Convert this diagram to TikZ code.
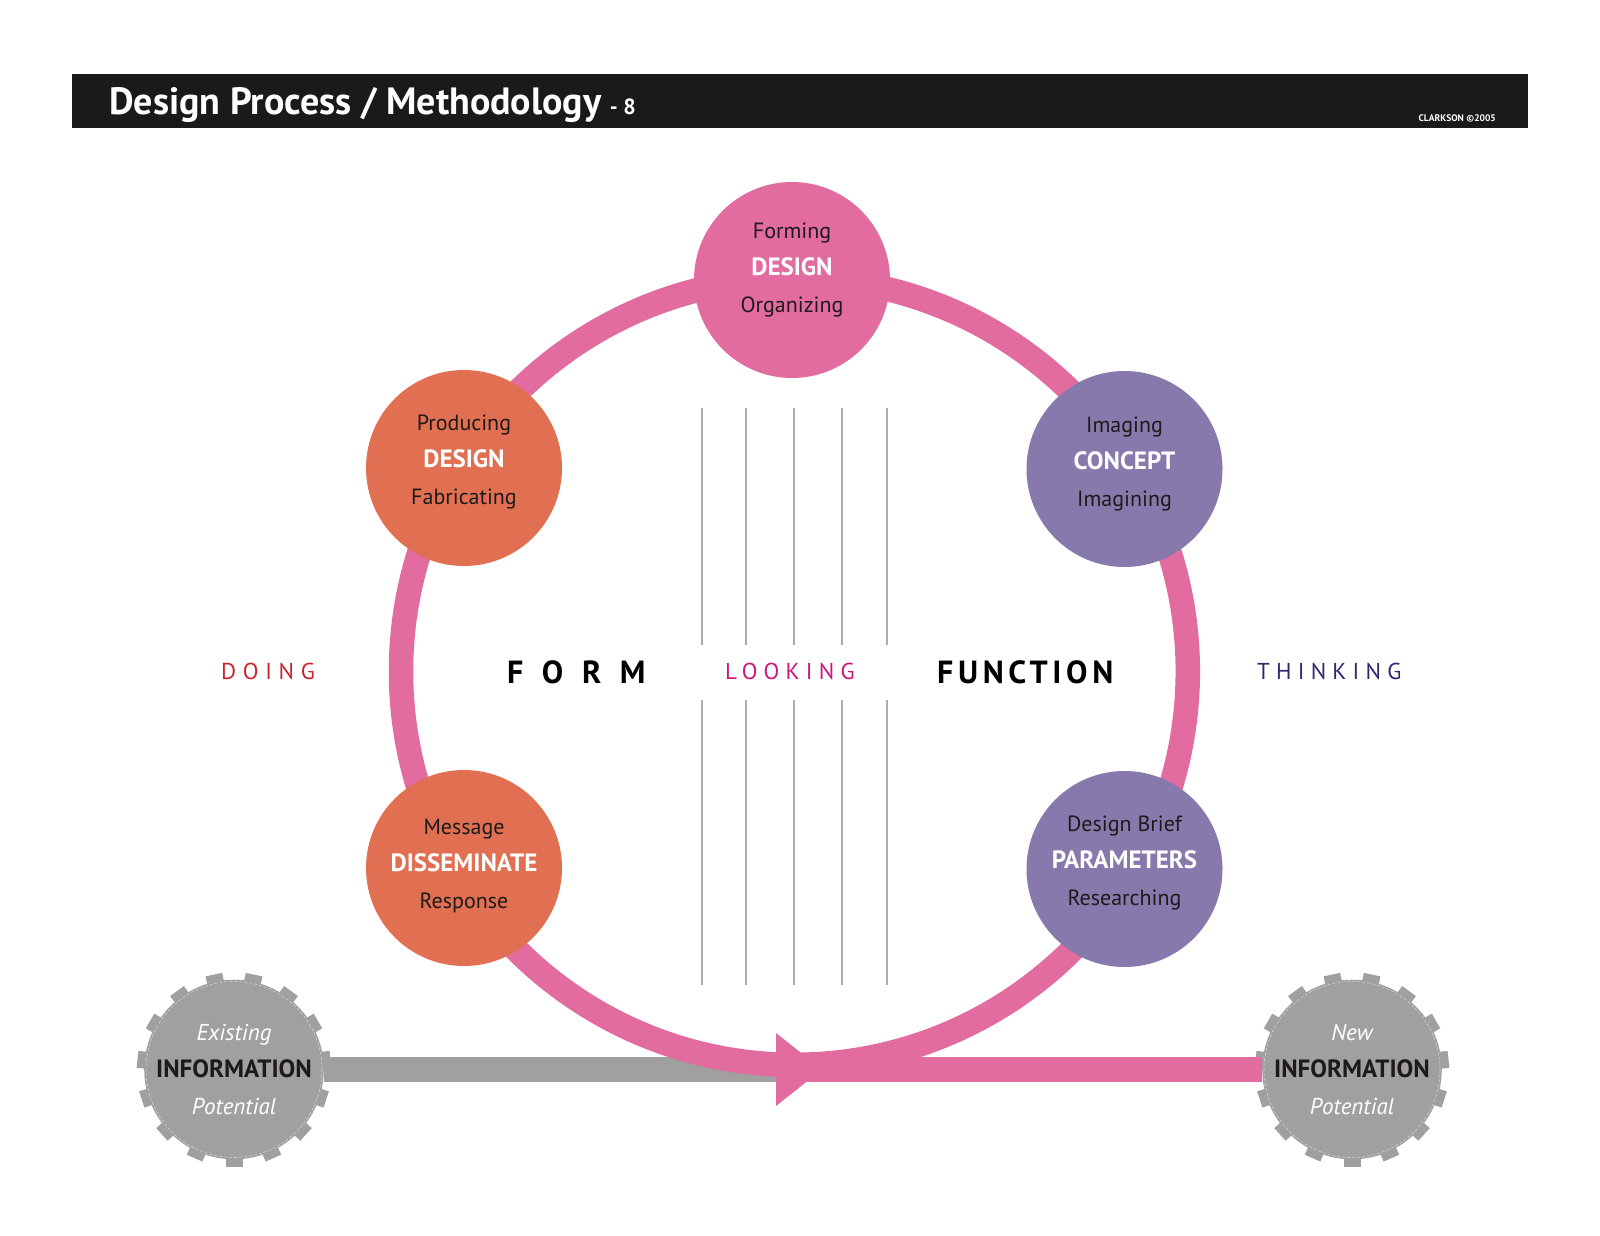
\documentclass[tikz,border=0pt]{standalone}
\usepackage{fontspec}
\setmainfont{PT Sans}
\usetikzlibrary{positioning,backgrounds}

\definecolor{ringpink}{RGB}{226,107,160}
\definecolor{doorange}{RGB}{225,112,82}
\definecolor{thinkpurple}{RGB}{136,121,172}
\definecolor{infogray}{RGB}{160,160,160}
\definecolor{guidegray}{RGB}{172,172,172}
\definecolor{headblack}{RGB}{26,26,26}
\definecolor{stagetext}{RGB}{30,26,26}
\definecolor{doingred}{RGB}{200,36,46}
\definecolor{lookingmag}{RGB}{204,22,122}
\definecolor{thinknavy}{RGB}{46,40,110}

\tikzset{
  stage/.style={circle, minimum size=196, inner sep=0pt},
  stagelabel/.style={inner sep=0pt, align=center, text=stagetext,
    font=\fontsize{22}{37}\selectfont},
  infogear/.style={circle, fill=infogray, minimum size=176, inner sep=0pt,
    align=center, text=stagetext, font=\fontsize{23}{37}\selectfont},
  sidelabel/.style={anchor=base west, inner sep=0pt, font=\fontsize{23}{23}\selectfont},
  biglabel/.style={anchor=base west, inner sep=0pt, text=black, font=\fontsize{32}{32}\selectfont\bfseries},
  guide/.style={guidegray, line width=1.5},
  bar/.style={line width=25}
}

\newcommand{\keyword}[1]{\textcolor{white}{\fontsize{25}{37}\selectfont\bfseries #1}}
\newcommand{\softword}[1]{\textcolor{white}{\itshape #1}}
\newcommand{\infoword}{{\fontsize{25}{37}\selectfont\bfseries INFORMATION}}

\begin{document}
\begin{tikzpicture}[x=1pt,y=-1pt]
\useasboundingbox (0,0) rectangle (1600,1236);

\fill[headblack] (72,74.5) rectangle (1528,128.5);
\node[anchor=base west, inner sep=0pt, text=white, font=\fontsize{38}{38}\selectfont\bfseries]
  (title) at (109,114) {Design Process / Methodology};
\node[anchor=base west, inner sep=0pt, text=white, font=\fontsize{22}{22}\selectfont\bfseries]
  (page) at ([xshift=8]title.base east) {- 8};
\node[anchor=base east, inner sep=0pt, text=white, font=\fontsize{9.5}{9.5}\selectfont\bfseries]
  (credit) at (1496,122) {CLARKSON ©2005};

\pgfmathsetmacro{\r}{393.4}
\coordinate (ctr) at (794.4,671.4);
\draw[ringpink, line width=24.5] (ctr) circle (\r);

\foreach \x in {702,746,794,842,887}{
  \draw[guide] (\x,408) -- (\x,645);
  \draw[guide] (\x,700) -- (\x,985);
}

\node[infogear] (existing) at (234,1069.5) {\softword{Existing}\\ \infoword\\ \softword{Potential}};
\node[infogear] (newinfo) at (1352,1069.5) {\softword{New}\\ \infoword\\ \softword{Potential}};
\foreach \g in {existing,newinfo}{
  \begin{scope}[shift={(\g.center)}]
    \foreach \a in {0,24,...,336}
      \fill[infogray, rotate=\a] (-8.5,84) rectangle (8.5,97);
    \draw[white, line width=0.5, dash pattern=on 3 off 2, opacity=0.6] (0,0) circle (88);
  \end{scope}
}

\coordinate (arrowbase) at (776,1069.5);
\coordinate (tip) at (822,1069.5);
\begin{pgfonlayer}{background}
  \draw[infogray, bar] (existing.east) -- (arrowbase);
\end{pgfonlayer}
\draw[ringpink, bar] (arrowbase) -- (newinfo.west);
\fill[ringpink] (776,1033) -- (776,1106) -- (tip) -- cycle;

\node[stage, fill=ringpink] (forming) at (792,280) {};
\node[stage, fill=doorange] (producing) at (464,468) {};
\node[stage, fill=doorange] (message) at (464,868) {};
\node[stage, fill=thinkpurple] (imaging) at (1124.5,469) {};
\node[stage, fill=thinkpurple] (brief) at (1124.5,869) {};

\node[stagelabel] (formingtext) at ([yshift=10]forming.center) {Forming\\ \keyword{DESIGN}\\ Organizing};
\node[stagelabel] (producingtext) at ([yshift=6]producing.center) {Producing\\ \keyword{DESIGN}\\ Fabricating};
\node[stagelabel] (messagetext) at ([yshift=2]message.center) {Message\\ \keyword{DISSEMINATE}\\ Response};
\node[stagelabel] (imagingtext) at ([yshift=5]imaging.center) {Imaging\\ \keyword{CONCEPT}\\ Imagining};
\node[stagelabel] (brieftext) at ([yshift=6]brief.center) {Design Brief\\ \keyword{PARAMETERS}\\ Researching};

\node[sidelabel, text=doingred] (doing) at (221,679) {\addfontfeatures{LetterSpace=29}DOING};
\node[biglabel] (form) at (507,683) {\addfontfeatures{LetterSpace=58}FORM};
\node[sidelabel, text=lookingmag] (looking) at (725,679) {\addfontfeatures{LetterSpace=27}LOOKING};
\node[biglabel] (function) at (937,683) {\addfontfeatures{LetterSpace=14.5}FUNCTION};
\node[sidelabel, text=thinknavy] (thinking) at (1257,679) {\addfontfeatures{LetterSpace=27}THINKING};
\end{tikzpicture}
\end{document}
